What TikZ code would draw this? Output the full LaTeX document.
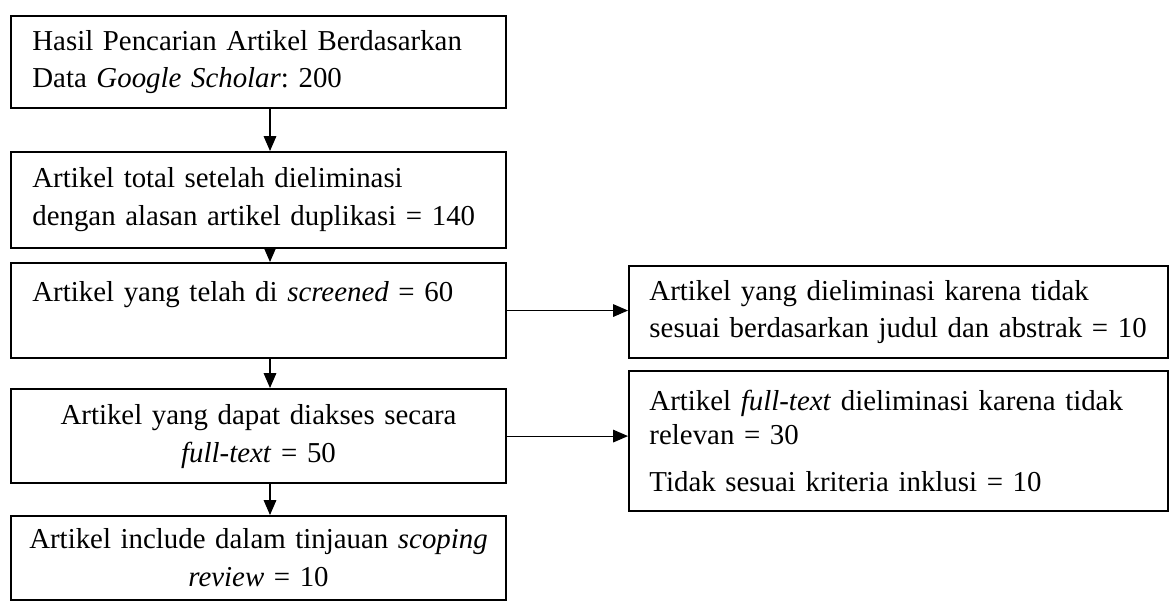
\documentclass[tikz,border=0pt]{standalone}
\usepackage{fontspec}
\setmainfont{Liberation Serif}
\usetikzlibrary{arrows.meta}
\frenchspacing

\tikzset{
  box/.style={draw, line width=0.9pt, anchor=north west, inner xsep=9.4pt, inner ysep=2pt,
    text width=199pt, align=left, font=\fontsize{12.7}{16.7}\selectfont},
  midbox/.style={box, inner xsep=3.9pt, text width=210pt, align=center},
  sidebox/.style={box, inner xsep=9pt, text width=219pt},
}

\begin{document}
\begin{tikzpicture}[x=0.44pt, y=-0.44pt, >={Triangle[length=6.5pt,width=5.5pt]}]
    \useasboundingbox (0,0) rectangle (1169,600);

    \node[box, minimum height=40.5pt] (hasil) at (10,15)
      {Hasil Pencarian Artikel Berdasarkan\\Data \textit{Google Scholar}: 200};
    \node[box, minimum height=42.2pt] (total) at (10,151)
      {Artikel total setelah dieliminasi\\dengan alasan artikel duplikasi = 140};
    \node[box, minimum height=41.8pt] (screen) at (10,262)
      {Artikel yang telah di \textit{screened} = 60\\\mbox{}};
    \node[midbox, minimum height=41.4pt] (akses) at (10,388)
      {Artikel yang dapat diakses secara\\\textit{full-text} = 50};
    \node[midbox, minimum height=37pt] (include) at (10,515)
      {Artikel include dalam tinjauan \textit{scoping}\\\textit{review} = 10};

    \node[sidebox, minimum height=40.5pt] (judul) at (628,265)
      {Artikel yang dieliminasi karena tidak\\sesuai berdasarkan judul dan abstrak = 10};
    \node[sidebox, minimum height=61.6pt, font=\fontsize{12.7}{15}\selectfont] (relevan) at (628,370)
      {Artikel \textit{full-text} dieliminasi karena tidak\\relevan = 30\\[6pt]Tidak sesuai kriteria inklusi = 10};

    \coordinate (axis) at (270,0);
    \draw[->, line width=0.5pt] (hasil.south -| axis) -- (total.north -| axis);
    \draw[->, line width=0.5pt] (total.south -| axis) -- (screen.north -| axis);
    \draw[->, line width=0.5pt] (screen.south -| axis) -- (akses.north -| axis);
    \draw[->, line width=0.5pt] (akses.south -| axis) -- (include.north -| axis);

    \draw[->, line width=0.5pt] (screen.east) -- (screen.east -| judul.west);
    \draw[->, line width=0.5pt] (akses.east) -- (akses.east -| relevan.west);
  \end{tikzpicture}
\end{document}
